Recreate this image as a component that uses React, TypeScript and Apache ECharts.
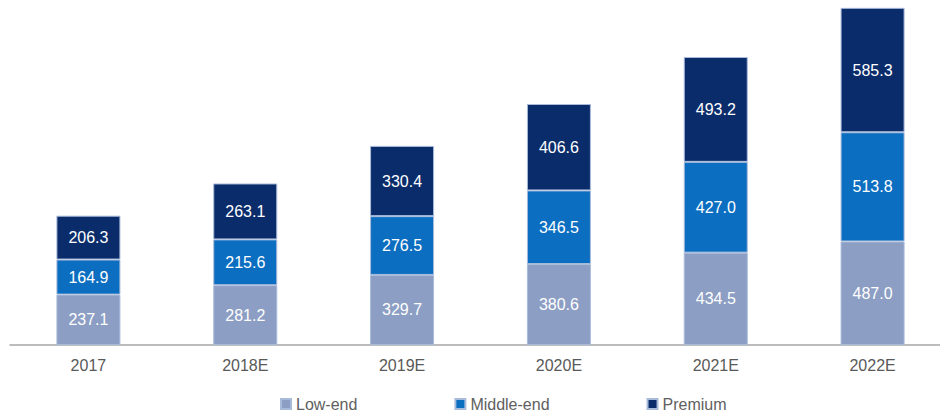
import React, { useEffect, useRef } from "react";
import * as echarts from "echarts";

const categories = ["2017", "2018E", "2019E", "2020E", "2021E", "2022E"];
const lowEnd = [237.1, 281.2, 329.7, 380.6, 434.5, 487.0];
const middleEnd = [164.9, 215.6, 276.5, 346.5, 427.0, 513.8];
const premium = [206.3, 263.1, 330.4, 406.6, 493.2, 585.3];

const FONT = "'Liberation Sans', Arial, sans-serif";

export default function App() {
  const ref = useRef<HTMLDivElement>(null);
  useEffect(() => {
    document.body.style.margin = "0";
    if (!ref.current) return;
    const chart = echarts.init(ref.current, undefined, { renderer: "svg" });
    const label = {
      show: true,
      position: "inside",
      color: "#ffffff",
      fontSize: 16,
      fontFamily: FONT,
      formatter: (p: any) => Number(p.value).toFixed(1),
    };
    const mk = (name: string, data: number[], color: string) => ({
      name,
      type: "bar",
      stack: "total",
      data,
      barWidth: 64,
      itemStyle: { color, borderColor: "#a9bbdb", borderWidth: 1 },
      label,
    });
    chart.setOption({
      animation: false,
      grid: { left: 10, width: 941, top: 7, bottom: 69 },
      legend: {
        left: 275,
        top: 391,
        itemWidth: 10,
        itemHeight: 10,
        itemGap: 97,
        icon: "rect",
        textStyle: { color: "#606060", fontSize: 16, fontFamily: FONT },
      },
      xAxis: {
        type: "category",
        data: categories,
        axisLine: { lineStyle: { color: "#a6a6a6", width: 1.5 } },
        axisTick: { show: false },
        axisLabel: { color: "#595959", fontSize: 16, fontFamily: FONT, margin: 12 },
      },
      yAxis: { type: "value", show: false, min: 0, max: 1590, splitLine: { show: false } },
      series: [
        mk("Low-end", lowEnd, "#8c9ec3"),
        mk("Middle-end", middleEnd, "#0b6ec0"),
        mk("Premium", premium, "#0a2c6b"),
      ],
    });
    return () => chart.dispose();
  }, []);
  return (
    <div style={{ width: 940, height: 414, overflow: "hidden" }}>
      <div ref={ref} style={{ width: 960, height: 414 }} />
    </div>
  );
}
